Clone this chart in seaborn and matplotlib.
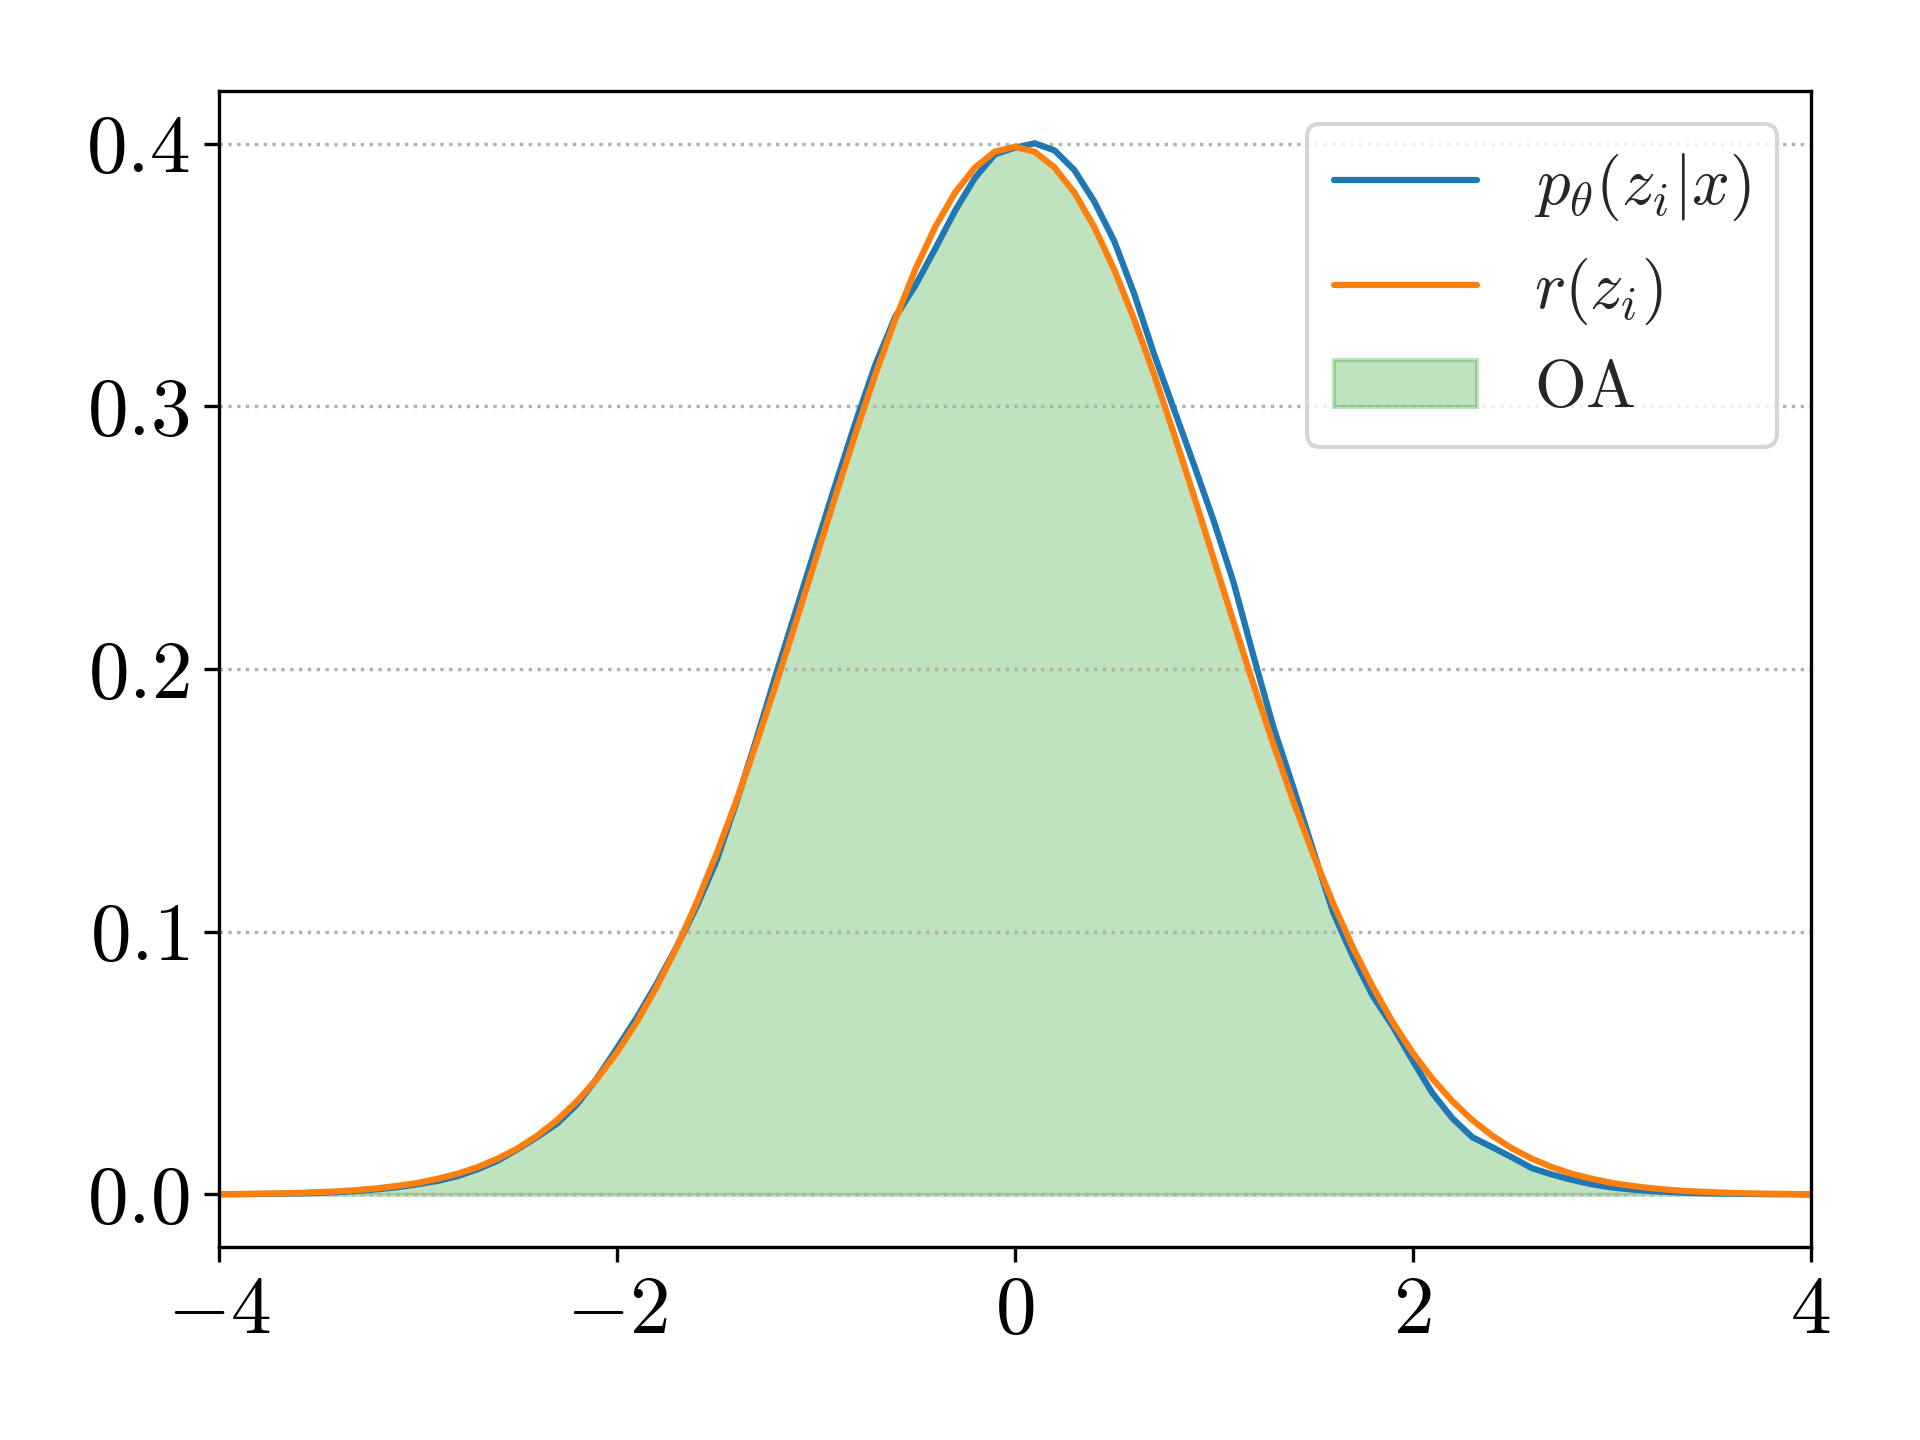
import numpy as np
import pandas as pd
import seaborn as sns
import matplotlib.pyplot as plt

# values (density at z = -4.0 ... 4.0, step 0.1)
z = np.round(np.arange(-40, 41) / 10, 1)

# r(z_i): the prior, a standard normal
prior = [0.0001, 0.0002, 0.0003, 0.0004, 0.0006, 0.0009, 0.0012, 0.0017, 0.0024, 0.0033,
         0.0044, 0.0060, 0.0079, 0.0104, 0.0136, 0.0175, 0.0224, 0.0283, 0.0355, 0.0440,
         0.0540, 0.0656, 0.0790, 0.0940, 0.1109, 0.1295, 0.1497, 0.1714, 0.1942, 0.2179,
         0.2420, 0.2661, 0.2897, 0.3123, 0.3332, 0.3521, 0.3683, 0.3814, 0.3910, 0.3970,
         0.3989,
         0.3970, 0.3910, 0.3814, 0.3683, 0.3521, 0.3332, 0.3123, 0.2897, 0.2661, 0.2420,
         0.2179, 0.1942, 0.1714, 0.1497, 0.1295, 0.1109, 0.0940, 0.0790, 0.0656, 0.0540,
         0.0440, 0.0355, 0.0283, 0.0224, 0.0175, 0.0136, 0.0104, 0.0079, 0.0060, 0.0044,
         0.0033, 0.0024, 0.0017, 0.0012, 0.0009, 0.0006, 0.0004, 0.0003, 0.0002, 0.0001]

# p_theta(z_i|x): the posterior estimate
posterior = [0.0001, 0.0001, 0.0002, 0.0003, 0.0004, 0.0006, 0.0009, 0.0014, 0.0020, 0.0028,
             0.0039, 0.0052, 0.0070, 0.0096, 0.0128, 0.0172, 0.0219, 0.0270, 0.0343, 0.0442,
             0.0556, 0.0673, 0.0802, 0.0942, 0.1094, 0.1268, 0.1490, 0.1730, 0.1980, 0.2222,
             0.2465, 0.2705, 0.2940, 0.3160, 0.3342, 0.3460, 0.3600, 0.3745, 0.3870, 0.3960,
             0.3985,
             0.4002, 0.3975, 0.3900, 0.3780, 0.3630, 0.3430, 0.3200, 0.2990, 0.2780, 0.2565,
             0.2330, 0.2050, 0.1780, 0.1550, 0.1310, 0.1075, 0.0905, 0.0755, 0.0640, 0.0510,
             0.0385, 0.0290, 0.0218, 0.0180, 0.0141, 0.0100, 0.0076, 0.0056, 0.0039, 0.0027,
             0.0019, 0.0013, 0.0009, 0.0006, 0.0004, 0.0003, 0.0002, 0.0001, 0.0001, 0.0000]

xticks = [-4, -2, 0, 2, 4]
xticklabels = ['$-4$', '$-2$', '$0$', '$2$', '$4$']
yticks = [0.0, 0.1, 0.2, 0.3, 0.4]
yticklabels = ['$0.0$', '$0.1$', '$0.2$', '$0.3$', '$0.4$']

df = pd.DataFrame({'z': z, 'posterior': posterior, 'prior': prior})

sns.set_theme(style="ticks", rc={"axes.edgecolor": "black", "xtick.color": "black",
                                 "ytick.color": "black", "axes.axisbelow": "line",
                                 "axes.linewidth": 0.8, "xtick.major.width": 0.8,
                                 "ytick.major.width": 0.8, "xtick.major.size": 3.5,
                                 "ytick.major.size": 3.5, "lines.solid_joinstyle": "round"})
plt.rcParams['font.family'] = ['serif']
plt.rcParams['font.serif'] = ['cmr10', 'DejaVu Serif']
plt.rcParams['mathtext.fontset'] = 'cm'

fig, ax = plt.subplots(figsize=(6.4, 4.8), dpi=300)
fig.subplots_adjust(left=0.114, right=0.943, top=0.937, bottom=0.134)

sns.lineplot(data=df, x='z', y='posterior', color='#1f77b4', lw=1.5,
             label=r'$p_\theta(z_i|x)$', ax=ax)
sns.lineplot(data=df, x='z', y='prior', color='#ff7f0e', lw=1.5,
             label=r'$r(z_i)$', ax=ax)

# overlapping area: under the lower of the two curves
ax.fill_between(df['z'], 0, np.minimum(df['posterior'], df['prior']),
                color='#2ca02c', alpha=0.3, label=r'$\mathrm{OA}$')

ax.grid(axis='y', linestyle=':', color='#b0b0b0', linewidth=0.8)
ax.set_xlim(-4, 4)
ax.set_xticks(xticks, labels=xticklabels, fontsize=19.5)
ax.set_yticks(yticks, labels=yticklabels, fontsize=19.5)
ax.set_xlabel('')
ax.set_ylabel('')

ax.legend(loc='upper right', fontsize=16, frameon=True, fancybox=True,
          framealpha=0.8, edgecolor='0.8', handlelength=2.15, handletextpad=0.85)

plt.savefig('out.png', dpi=300)
